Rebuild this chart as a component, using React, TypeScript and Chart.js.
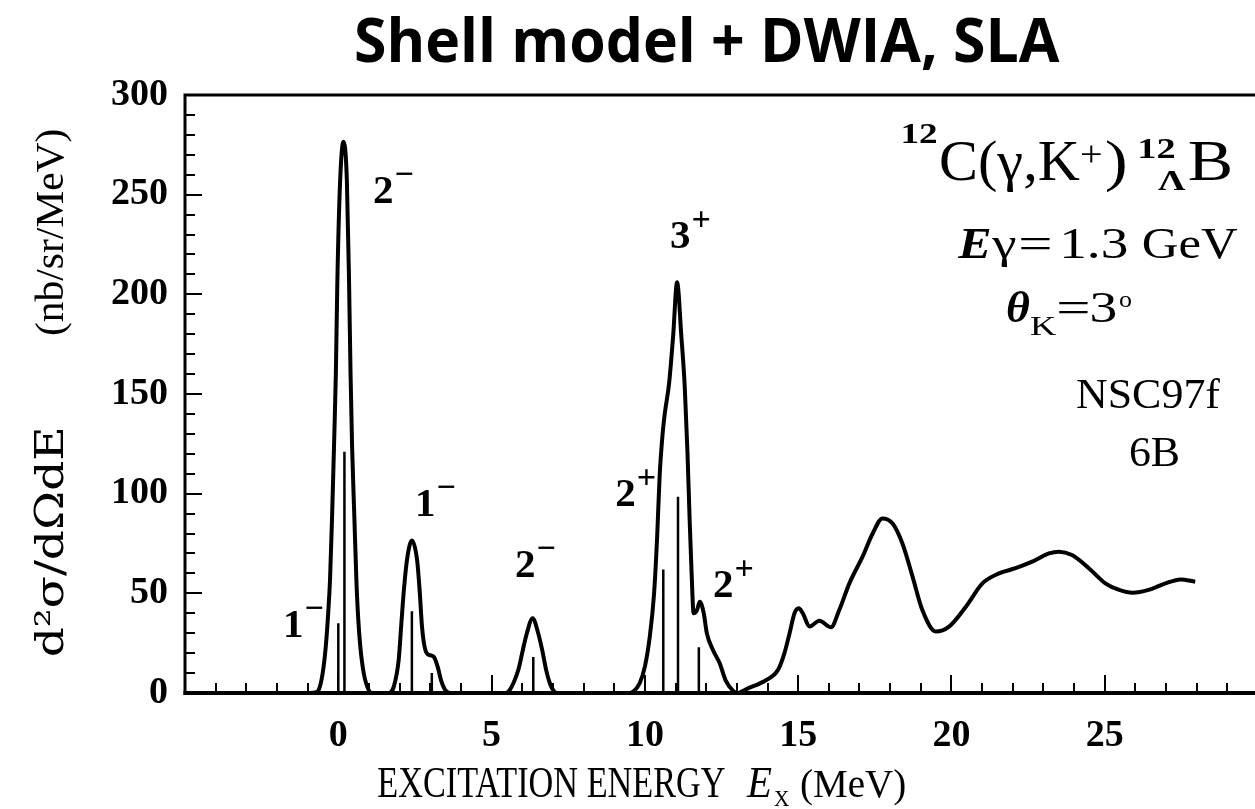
import React, { useEffect, useRef } from 'react';
import { Chart, registerables } from 'chart.js';

Chart.register(...registerables);

// ---------------- data ----------------
// Calculated spectrum: excitation energy (MeV) and d2sigma/dOmega dE (nb/sr/MeV)
const curveE = [
  -1.0, -0.75, -0.64, -0.51, -0.41, -0.33, -0.27, -0.2, -0.14, -0.08, -0.03, 0.06, 0.17, 0.28, 0.35, 0.4, 0.45, 0.52, 0.59, 0.64, 0.72, 0.83, 0.99, 1.1,
  1.6, 1.7, 1.81, 1.97, 2.05, 2.13, 2.24, 2.4, 2.57, 2.66, 2.73, 2.84, 2.98, 3.11, 3.24, 3.35, 3.49, 3.65,
  5.45, 5.55, 5.71, 5.87, 6.02, 6.15, 6.34, 6.52, 6.65, 6.78, 6.9, 7.04, 7.15,
  9.5, 9.62, 9.83, 10.0, 10.16, 10.3, 10.4, 10.48, 10.57, 10.65, 10.79, 10.92, 11.05, 11.19, 11.3, 11.39, 11.46, 11.52, 11.59, 11.7, 11.79, 11.92, 12.02, 12.22, 12.44, 12.63, 12.87, 13.0,
  13.36, 13.96, 14.34, 14.55, 14.72, 14.88, 15.02, 15.15, 15.37, 15.69, 16.07, 16.34, 16.67, 17.1, 17.43, 17.75, 18.08, 18.4, 18.73, 19.05, 19.49, 19.92, 20.47, 21.01, 21.55, 22.09, 22.63, 23.18, 23.5, 23.93, 24.48, 25.02, 25.47, 25.91, 26.43, 26.98, 27.47, 27.95,
];
const curveV = [
  0, 0.3, 1.5, 9.9, 23, 40, 56.7, 90, 123.6, 160, 207, 257, 276.6, 257, 207, 160, 123.6, 90, 56.7, 40, 23, 9.9, 1.5, 0,
  0, 0.3, 3.2, 16.6, 33.3, 50, 66.7, 76.5, 66.7, 50, 33.3, 21.6, 19, 18.2, 13.2, 6.5, 1.5, 0,
  0, 0.7, 4.9, 11.5, 21.6, 30, 37.5, 30, 21.6, 11.5, 4.9, 0.7, 0,
  0, 0.7, 4.9, 13.2, 28.3, 50, 78.4, 108.5, 128.6, 140.3, 155.4, 178.8, 206, 178.8, 153.7, 120.3, 86.8, 61.7, 40, 41.6, 45.8, 40, 30, 21.6, 14.9, 6.5, 1.2, 0,
  2.3, 6.5, 11.5, 19.9, 30, 40, 42.5, 40, 33.3, 36.3, 33, 41.6, 55, 68.4, 80, 87.6, 85, 75, 58.4, 41.6, 30.8, 33.3, 43.3, 55, 60, 62.6, 65.9, 70, 70.9, 69.2, 62.6, 55, 51.7, 50.3, 51.7, 55, 57, 55.8,
];

// Individual state strengths (vertical sticks)
const stickE = [0.0, 0.2, 2.4, 3.05, 6.36, 10.6, 11.08, 11.76];
const stickV = [35, 121, 41, 10, 18, 62, 98.5, 23];

// Axis ranges and ticks
const xMin = -5;
const xMax = 29.9;
const xMajor = 5;
const xMinor = 1;
const yMin = 0;
const yMax = 300;
const yMajor = 50;
const yMinor = 10;

// State labels (spin-parity) anchored in data coordinates (E, value) at baseline-left
const stateMain = ['1', '2', '1', '2', '2', '2', '3'];
const stateSup = ['−', '−', '−', '−', '+', '+', '+'];
const stateE = [-1.8, 1.13, 2.5, 5.76, 9.03, 12.22, 10.82];
const stateV = [28, 246, 89, 58, 94, 48, 223];

// ---------------- styling ----------------
const SERIF = '"Liberation Serif", "Times New Roman", serif';
const DJV = '"DejaVu Serif", serif';
const SANS = '"Open Sans", Lato, sans-serif';

function fitText(ctx: CanvasRenderingContext2D, text: string, x1: number, x2: number, y: number, font: string) {
  ctx.save();
  ctx.font = font;
  ctx.fillStyle = '#000';
  ctx.textAlign = 'left';
  ctx.textBaseline = 'alphabetic';
  const m = ctx.measureText(text);
  const inkW = m.actualBoundingBoxRight + m.actualBoundingBoxLeft;
  const sx = inkW > 0 ? (x2 - x1) / inkW : 1;
  ctx.translate(x1 + m.actualBoundingBoxLeft * sx, y);
  ctx.scale(sx, 1);
  ctx.fillText(text, 0, 0);
  ctx.restore();
}

function fitTextRot(ctx: CanvasRenderingContext2D, text: string, bx: number, yBottom: number, yTop: number, font: string) {
  ctx.save();
  ctx.font = font;
  ctx.fillStyle = '#000';
  ctx.textAlign = 'left';
  ctx.textBaseline = 'alphabetic';
  const m = ctx.measureText(text);
  const inkW = m.actualBoundingBoxRight + m.actualBoundingBoxLeft;
  const sx = inkW > 0 ? (yBottom - yTop) / inkW : 1;
  ctx.translate(bx, yBottom);
  ctx.rotate(-Math.PI / 2);
  ctx.translate(m.actualBoundingBoxLeft * sx, 0);
  ctx.scale(sx, 1);
  ctx.fillText(text, 0, 0);
  ctx.restore();
}

// [text, x1, x2, baseline, font]
const annotations: [string, number, number, number, string][] = [
  ['Shell model + DWIA, SLA', 356, 1060, 62, `bold 60px ${SANS}`],
  ['12', 903, 937, 143, `bold 29px ${SERIF}`],
  ['C(γ,K', 941, 1080, 180, `58px ${SERIF}`],
  ['+', 1081, 1101, 166, `36px ${SERIF}`],
  [')', 1106, 1125, 180, `58px ${SERIF}`],
  ['12', 1140, 1175, 158, `bold 29px ${SERIF}`],
  ['Λ', 1158, 1186, 190, `bold 30px ${SERIF}`],
  ['B', 1189, 1230, 180, `58px ${SERIF}`],
  ['E', 957, 990, 258, `bold italic 44px ${SERIF}`],
  ['γ', 991, 1016, 258, `44px ${SERIF}`],
  ['=', 1021, 1050, 258, `44px ${SERIF}`],
  ['1.3', 1063, 1127, 258, `44px ${SERIF}`],
  ['GeV', 1143, 1238, 258, `44px ${SERIF}`],
  ['θ', 1007, 1030, 322, `bold italic 44px ${SERIF}`],
  ['K', 1030, 1056, 335, `28px ${SERIF}`],
  ['=', 1059, 1088, 322, `44px ${SERIF}`],
  ['3', 1092, 1116, 322, `44px ${SERIF}`],
  ['o', 1119, 1132, 307, `24px ${SERIF}`],
  ['NSC97f', 1077, 1220, 408, `42px ${SERIF}`],
  ['6B', 1130, 1178, 466, `42px ${SERIF}`],
  ['EXCITATION ENERGY', 378, 725, 797, `44px ${SERIF}`],
  ['E', 746, 772, 797, `italic 44px ${SERIF}`],
  ['X', 774, 789, 806, `24px ${SERIF}`],
  ['(MeV)', 801, 905, 797, `40px ${SERIF}`],
];

const framePlugin = {
  id: 'frameTicks',
  afterDatasetsDraw(chart: any) {
    const { ctx, chartArea, scales } = chart;
    const { left, right, top, bottom } = chartArea;
    const xs = scales.x;
    const ys = scales.y;
    ctx.save();
    ctx.strokeStyle = '#000';
    ctx.lineCap = 'butt';
    ctx.lineWidth = 2;
    ctx.beginPath();
    for (let e = Math.ceil(xMin); e <= xMax; e += xMinor) {
      const px = Math.round(xs.getPixelForValue(e));
      const len = e % xMajor === 0 ? 18 : 10;
      ctx.moveTo(px, bottom);
      ctx.lineTo(px, bottom - len);
    }
    for (let v = yMin; v <= yMax; v += yMinor) {
      const py = Math.round(ys.getPixelForValue(v));
      const len = v % yMajor === 0 ? 17 : 10;
      ctx.moveTo(left, py);
      ctx.lineTo(left + len, py);
    }
    ctx.stroke();
    // frame (right side is cut off in the original)
    ctx.lineWidth = 3;
    ctx.beginPath();
    ctx.moveTo(left, top);
    ctx.lineTo(right + 2, top);
    ctx.moveTo(left, top - 1.5);
    ctx.lineTo(left, bottom + 2);
    ctx.stroke();
    ctx.lineWidth = 4;
    ctx.beginPath();
    ctx.moveTo(left - 1.5, bottom);
    ctx.lineTo(right + 2, bottom);
    ctx.stroke();
    ctx.restore();
  },
};

const textPlugin = {
  id: 'texts',
  afterDraw(chart: any) {
    const { ctx, scales } = chart;
    for (const [t, x1, x2, y, f] of annotations) fitText(ctx, t, x1, x2, y, f);
    // y axis title (rotated)
    fitTextRot(ctx, 'd²σ/dΩdE', 63, 655, 430, `40px ${DJV}`);
    fitTextRot(ctx, '(nb/sr/MeV)', 63, 335, 130, `40px ${SERIF}`);
    // spin-parity labels
    ctx.save();
    ctx.fillStyle = '#000';
    ctx.textAlign = 'left';
    ctx.textBaseline = 'alphabetic';
    for (let i = 0; i < stateMain.length; i++) {
      const px = scales.x.getPixelForValue(stateE[i]);
      const py = scales.y.getPixelForValue(stateV[i]);
      ctx.font = `bold 41px ${SERIF}`;
      ctx.fillText(stateMain[i], px, py);
      const w = ctx.measureText(stateMain[i]).width;
      ctx.font = `bold 34px ${SERIF}`;
      ctx.fillText(stateSup[i], px + w + 1, py - 28 + 10);
    }
    ctx.restore();
  },
};

export default function App() {
  const ref = useRef<HTMLCanvasElement>(null);
  useEffect(() => {
    const curve = curveE.map((e, i) => ({ x: e, y: curveV[i] }));
    const sticks: { x: number; y: number | null }[] = [];
    stickE.forEach((e, i) => {
      sticks.push({ x: e, y: 0 }, { x: e, y: stickV[i] }, { x: e, y: null });
    });
    const tickFont = { family: SERIF, size: 38, weight: 'bold' as const };
    const chart = new Chart(ref.current!, {
      type: 'line',
      data: {
        datasets: [
          {
            data: curve as any,
            borderColor: '#000',
            borderWidth: 4,
            pointRadius: 0,
            fill: false,
            cubicInterpolationMode: 'monotone',
          },
          {
            data: sticks as any,
            borderColor: '#000',
            borderWidth: 2.5,
            pointRadius: 0,
            fill: false,
            tension: 0,
            spanGaps: false,
          },
        ],
      },
      options: {
        animation: false,
        responsive: false,
        events: [],
        layout: { padding: { top: 95, left: 0, right: 0, bottom: 0 } },
        plugins: {
          legend: { display: false },
          tooltip: { enabled: false },
          title: { display: false },
        },
        scales: {
          x: {
            type: 'linear',
            min: xMin,
            max: xMax,
            grid: { display: false },
            border: { display: false },
            ticks: {
              stepSize: xMajor,
              includeBounds: false,
              autoSkip: false,
              maxRotation: 0,
              color: '#000',
              font: tickFont,
              padding: 12,
              callback: (v: any) => (Number(v) < 0 ? '' : String(v)),
            },
            afterFit: (s: any) => {
              s.height = 809 - 693;
            },
          },
          y: {
            type: 'linear',
            min: yMin,
            max: yMax,
            grid: { display: false },
            border: { display: false },
            ticks: {
              stepSize: yMajor,
              color: '#000',
              font: tickFont,
              padding: 9,
            },
            afterFit: (s: any) => {
              s.width = 185;
            },
          },
        },
      },
      plugins: [framePlugin, textPlugin],
    });
    return () => chart.destroy();
  }, []);
  return (
    <div style={{ position: 'absolute', left: 0, top: 0, width: 1255, height: 809, background: '#fff' }}>
      <canvas ref={ref} width={1255} height={809} style={{ display: 'block', width: 1255, height: 809 }} />
    </div>
  );
}
